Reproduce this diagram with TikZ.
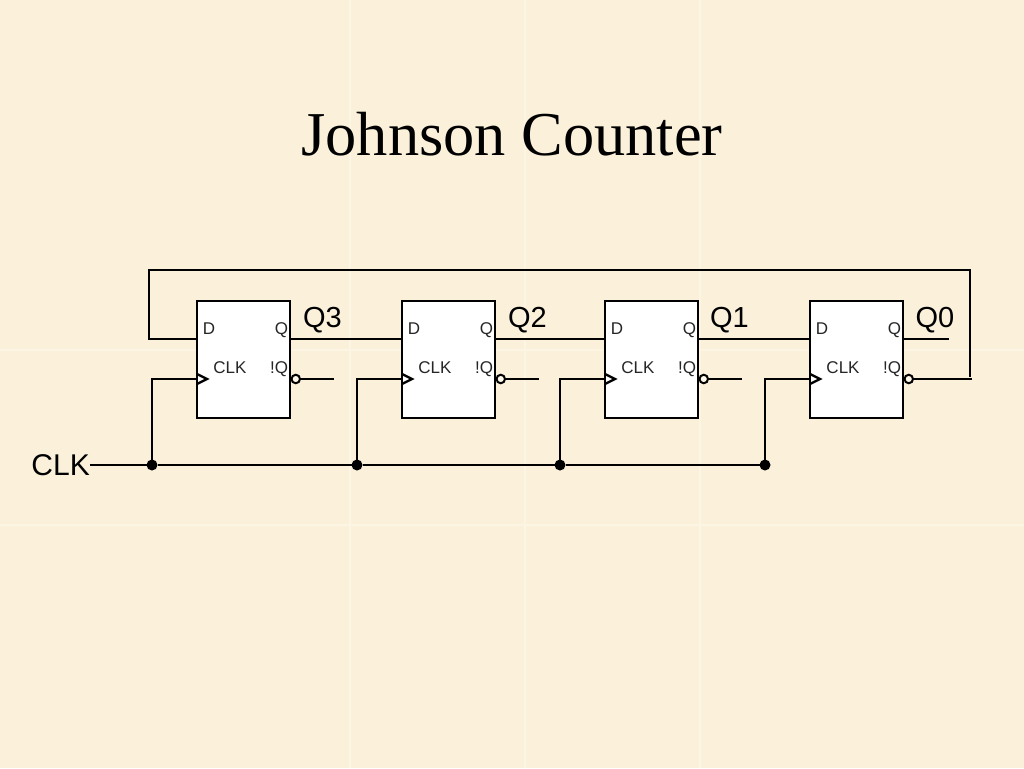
\documentclass[tikz,border=0pt]{standalone}
\usepackage{fontspec}
\setmainfont{Liberation Serif}
\newfontfamily\lblfont{Liberation Sans}
\usetikzlibrary{positioning, calc}
\definecolor{parchment}{HTML}{FBF1DB}
\definecolor{seam}{HTML}{FDF5E4}
\definecolor{hole}{HTML}{FEF8EA}
\tikzset{%
   wire/.style={
      line width=2.4pt,
      draw=black,
      line cap=butt,
      line join=miter
   },
   ff/.style={
      rectangle,
      draw=black,
      fill=white,
      line width=2.4pt,
      inner sep=0mm,
      outer sep=0mm,
      minimum width=93pt,
      minimum height=117pt
   },
   pinlbl/.style={
      font=\lblfont\fontsize{17}{19}\selectfont,
      text=black!85,
      text height=12pt,
      text depth=0pt,
      inner sep=0mm
   },
   qlbl/.style={
      font=\lblfont\fontsize{29}{31}\selectfont,
      text height=21pt,
      text depth=0pt,
      inner sep=0mm
   },
   dot/.style={
      circle,
      inner sep=0mm,
      outer sep=0mm,
      minimum size=11pt,
      fill=black
   },
   bubble/.style={
      circle,
      inner sep=0mm,
      outer sep=0mm,
      minimum size=8.5pt,
      line width=2pt,
      draw=black,
      fill=hole
   },
}

\begin{document}
\begin{tikzpicture}[x=1pt, y=-1pt]
   \useasboundingbox (0,0) rectangle (1024,768);
   \fill[parchment] (0,0) rectangle (1024,768);
   % tile seams
   \draw[seam, line width=1.2pt] (350,0) -- (350,768) (525,0) -- (525,768) (700,0) -- (700,768)
      (0,350) -- (1024,350) (0,525) -- (1024,525);

   \node[font=\fontsize{62.4}{68}\selectfont] (title) at (512,134) {Johnson Counter};

   % flip-flops
   \node[ff] (ff3) at (243.5,359.5) {};
   \node[ff, right=112pt of ff3] (ff2) {};
   \node[ff, right=110pt of ff2] (ff1) {};
   \node[ff, right=112pt of ff1] (ff0) {};

   % pins of each flip-flop
   \coordinate (d3) at ([shift={(0,38)}]ff3.north west);
   \coordinate (d2) at ([shift={(0,38)}]ff2.north west);
   \coordinate (d1) at ([shift={(0,38)}]ff1.north west);
   \coordinate (d0) at ([shift={(0,38)}]ff0.north west);
   \coordinate (q3) at ([shift={(0,38)}]ff3.north east);
   \coordinate (q2) at ([shift={(0,38)}]ff2.north east);
   \coordinate (q1) at ([shift={(0,38)}]ff1.north east);
   \coordinate (q0) at ([shift={(0,38)}]ff0.north east);
   \coordinate (c3) at ([shift={(0,78)}]ff3.north west);
   \coordinate (c2) at ([shift={(0,78)}]ff2.north west);
   \coordinate (c1) at ([shift={(0,78)}]ff1.north west);
   \coordinate (c0) at ([shift={(0,78)}]ff0.north west);
   \node[bubble, anchor=west] (n3) at ([shift={(1.5,78)}]ff3.north east) {};
   \node[bubble, anchor=west] (n2) at ([shift={(1.5,78)}]ff2.north east) {};
   \node[bubble, anchor=west] (n1) at ([shift={(1.5,78)}]ff1.north east) {};
   \node[bubble, anchor=west] (n0) at ([shift={(1.5,78)}]ff0.north east) {};

   % labels inside the boxes
   \node[pinlbl] (dl3) at ([shift={(12,27)}]ff3.north west) {D};
   \node[pinlbl] (dl2) at ([shift={(12,27)}]ff2.north west) {D};
   \node[pinlbl] (dl1) at ([shift={(12,27)}]ff1.north west) {D};
   \node[pinlbl] (dl0) at ([shift={(12,27)}]ff0.north west) {D};
   \node[pinlbl] (ql3) at ([shift={(-8.5,27)}]ff3.north east) {Q};
   \node[pinlbl] (ql2) at ([shift={(-8.5,27)}]ff2.north east) {Q};
   \node[pinlbl] (ql1) at ([shift={(-8.5,27)}]ff1.north east) {Q};
   \node[pinlbl] (ql0) at ([shift={(-8.5,27)}]ff0.north east) {Q};
   \node[pinlbl] (cl3) at ([shift={(33,66)}]ff3.north west) {CLK};
   \node[pinlbl] (cl2) at ([shift={(33,66)}]ff2.north west) {CLK};
   \node[pinlbl] (cl1) at ([shift={(33,66)}]ff1.north west) {CLK};
   \node[pinlbl] (cl0) at ([shift={(33,66)}]ff0.north west) {CLK};
   \node[pinlbl] (nl3) at ([shift={(-11,66)}]ff3.north east) {!Q};
   \node[pinlbl] (nl2) at ([shift={(-11,66)}]ff2.north east) {!Q};
   \node[pinlbl] (nl1) at ([shift={(-11,66)}]ff1.north east) {!Q};
   \node[pinlbl] (nl0) at ([shift={(-11,66)}]ff0.north east) {!Q};

   % output names
   \node[qlbl] (o3) at (322.5,317) {Q3};
   \node[qlbl] (o2) at (527.5,317) {Q2};
   \node[qlbl] (o1) at (729.5,317) {Q1};
   \node[qlbl] (o0) at (935,317) {Q0};

   % clock bus
   \node[qlbl, anchor=east, font=\lblfont\fontsize{30}{32}\selectfont] (clk) at (90,465) {CLK};
   \node[dot] (t3) at (152,465) {};
   \node[dot] (t2) at (357,465) {};
   \node[dot] (t1) at (560,465) {};
   \node[dot] (t0) at (765,465) {};
   \draw[wire] (clk.east) -- (t3) -- (t2) -- (t1) -- (t0);
   \draw[wire] (t3) |- (c3);
   \draw[wire] (t2) |- (c2);
   \draw[wire] (t1) |- (c1);
   \draw[wire] (t0) |- (c0);

   % clock chevrons
   \draw[wire] ([shift={(0,-5)}]c3) -- ([xshift=10pt]c3) -- ([shift={(0,5)}]c3);
   \draw[wire] ([shift={(0,-5)}]c2) -- ([xshift=10pt]c2) -- ([shift={(0,5)}]c2);
   \draw[wire] ([shift={(0,-5)}]c1) -- ([xshift=10pt]c1) -- ([shift={(0,5)}]c1);
   \draw[wire] ([shift={(0,-5)}]c0) -- ([xshift=10pt]c0) -- ([shift={(0,5)}]c0);

   % shift path
   \draw[wire] (q3) -- (d2);
   \draw[wire] (q2) -- (d1);
   \draw[wire] (q1) -- (d0);
   \coordinate[right=46pt of q0] (q0end);
   \draw[wire] (q0) -- (q0end);

   % inverted outputs
   \coordinate[right=34pt of n3.east] (n3end);
   \coordinate[right=34pt of n2.east] (n2end);
   \coordinate[right=34pt of n1.east] (n1end);
   \coordinate[right=59pt of n0.east] (n0end);
   \draw[wire] (n3) -- (n3end);
   \draw[wire] (n2) -- (n2end);
   \draw[wire] (n1) -- (n1end);
   \draw[wire] (n0) -- (n0end);

   % feedback
   \coordinate (fbr) at (970,270);
   \coordinate (fbl) at (149,270);
   \coordinate (fbe) at (970,377);
   \draw[wire] (fbe) -- (fbr) -- (fbl) |- (d3);
\end{tikzpicture}
\end{document}
